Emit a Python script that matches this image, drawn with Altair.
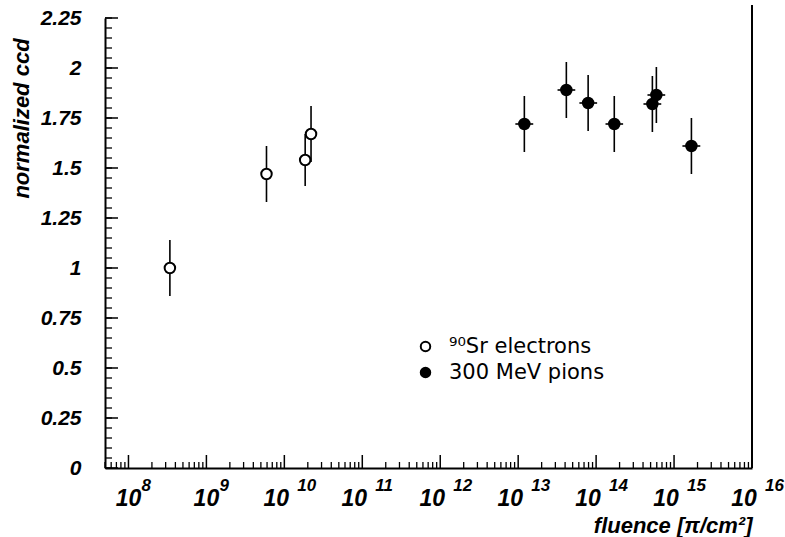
import altair as alt
import pandas as pd

# ---- data ----
series_labels = ["⁹⁰Sr electrons", "300 MeV pions"]

sr_fluence = [3.4e8, 5.9e9, 1.85e10, 2.2e10]
sr_ccd = [1.00, 1.47, 1.54, 1.67]
sr_err = [0.14, 0.14, 0.13, 0.14]

pi_fluence = [1.2e13, 4.15e13, 7.9e13, 1.71e14, 5.27e14, 5.93e14, 1.67e15]
pi_fluence_lo = [0.92e13, 3.2e13, 6.1e13, 1.32e14, 4.05e14, 4.56e14, 1.28e15]
pi_fluence_hi = [1.56e13, 5.4e13, 1.03e14, 2.22e14, 6.85e14, 7.7e14, 2.17e15]
pi_ccd = [1.72, 1.89, 1.825, 1.72, 1.82, 1.865, 1.61]
pi_err = [0.14, 0.14, 0.14, 0.14, 0.14, 0.14, 0.14]

y_tick_labels = [0, 0.25, 0.5, 0.75, 1, 1.25, 1.5, 1.75, 2, 2.25]
decade_exponents = [8, 9, 10, 11, 12, 13, 14, 15, 16]

# ---- tables ----
pts = pd.DataFrame({
    "fluence": sr_fluence + pi_fluence,
    "ccd": sr_ccd + pi_ccd,
    "err": sr_err + pi_err,
    "series": [series_labels[0]] * len(sr_fluence) + [series_labels[1]] * len(pi_fluence),
})
pts["lo"] = pts["ccd"] - pts["err"]
pts["hi"] = pts["ccd"] + pts["err"]

pi_df = pd.DataFrame({"flo": pi_fluence_lo, "fhi": pi_fluence_hi, "ccd": pi_ccd})

dec = pd.DataFrame({
    "val": [10.0 ** e for e in decade_exponents],
    "base": ["10"] * len(decade_exponents),
    "exp": [str(e) for e in decade_exponents],
    "two": [e >= 10 for e in decade_exponents],
})

XMIN, XMAX = 5.0e7, 1.0e16
minor_x = [m * 10.0 ** k for k in range(7, 16) for m in range(2, 10) if XMIN <= m * 10.0 ** k <= XMAX]
minor_x_df = pd.DataFrame({"val": minor_x})
y_minor_df = pd.DataFrame({"v": [round(i * 0.05, 2) for i in range(46)]})
y_major_df = pd.DataFrame({"v": y_tick_labels})

W, H = 647, 450
FONT = "Liberation Sans"

xs = alt.Scale(type="log", domain=[XMIN, XMAX], nice=False)
ys = alt.Scale(domain=[0, 2.25], nice=False, zero=False)

X_AX = alt.Axis(labels=False, ticks=False, grid=False, domainColor="black", domainWidth=2,
                title="fluence [π/cm²]", titleFont=FONT, titleFontSize=22,
                titleFontStyle="italic", titleFontWeight="bold", titleColor="black",
                titleX=W, titleY=57, titleAlign="right", titleBaseline="middle")
Y_AX = alt.Axis(values=y_tick_labels, labelExpr="'' + datum.value", ticks=False, grid=False,
                domainColor="black", domainWidth=2, labelPadding=24,
                labelFont=FONT, labelFontSize=21, labelFontStyle="italic",
                labelFontWeight="bold", labelColor="black",
                title="normalized ccd", titleFont=FONT, titleFontSize=22,
                titleFontStyle="italic", titleFontWeight="bold", titleColor="black",
                titleX=-84, titleY=100, titleAngle=270, titleAlign="center",
                titleBaseline="middle")

# vertical error bars
vbars = alt.Chart(pts).mark_rule(color="black", strokeWidth=1.6).encode(
    x=alt.X("fluence:Q", scale=xs, axis=X_AX),
    y=alt.Y("lo:Q", scale=ys, axis=Y_AX),
    y2="hi:Q",
)
# horizontal error bars (pions)
hbars = alt.Chart(pi_df).mark_rule(color="black", strokeWidth=1.6).encode(
    x=alt.X("flo:Q", scale=xs, axis=X_AX),
    x2="fhi:Q",
    y=alt.Y("ccd:Q", scale=ys, axis=Y_AX),
)
points = alt.Chart(pts).mark_point(shape="circle", filled=True, stroke="black",
                                   strokeWidth=2, size=110, opacity=1).encode(
    x=alt.X("fluence:Q", scale=xs, axis=X_AX),
    y=alt.Y("ccd:Q", scale=ys, axis=Y_AX),
    fill=alt.Fill("series:N", scale=alt.Scale(domain=series_labels, range=["white", "black"]),
                  legend=alt.Legend(title=None, orient="none", legendX=310, legendY=318,
                                    labelFont="DejaVu Sans", labelFontSize=21, labelColor="black",
                                    symbolType="circle", symbolSize=90,
                                    symbolStrokeColor="black", symbolStrokeWidth=2,
                                    labelOffset=13, rowPadding=4)),
)

# inward ticks on the y axis
y_minor = alt.Chart(y_minor_df).mark_rule(color="black", strokeWidth=1.3).encode(
    y=alt.Y("v:Q", scale=ys, axis=Y_AX), x=alt.value(0), x2=alt.value(7))
y_major = alt.Chart(y_major_df).mark_rule(color="black", strokeWidth=1.5).encode(
    y=alt.Y("v:Q", scale=ys, axis=Y_AX), x=alt.value(0), x2=alt.value(13))
# inward ticks on the x axis
x_minor = alt.Chart(minor_x_df).mark_rule(color="black", strokeWidth=1.3).encode(
    x=alt.X("val:Q", scale=xs, axis=X_AX), y=alt.value(H), y2=alt.value(H - 6))
x_major = alt.Chart(dec).mark_rule(color="black", strokeWidth=1.5).encode(
    x=alt.X("val:Q", scale=xs, axis=X_AX), y=alt.value(H), y2=alt.value(H - 13))

# decade labels 10^n
lab_style = dict(font=FONT, fontStyle="italic", fontWeight="bold", color="black")
base1 = alt.Chart(dec).transform_filter("!datum.two").mark_text(
    fontSize=23, align="center", baseline="middle", dx=0, **lab_style).encode(
    x=alt.X("val:Q", scale=xs, axis=X_AX), y=alt.value(H + 31), text="base:N")
base2 = alt.Chart(dec).transform_filter("datum.two").mark_text(
    fontSize=23, align="center", baseline="middle", dx=-8, **lab_style).encode(
    x=alt.X("val:Q", scale=xs, axis=X_AX), y=alt.value(H + 31), text="base:N")
expo = alt.Chart(dec).mark_text(
    fontSize=17, align="left", baseline="middle", dx=13, **lab_style).encode(
    x=alt.X("val:Q", scale=xs, axis=X_AX), y=alt.value(H + 18), text="exp:N")

# right frame line
right_line = alt.Chart(dec).mark_rule(color="black", strokeWidth=1.5).encode(
    x=alt.value(W), y=alt.value(-13), y2=alt.value(H))

chart = alt.layer(
    y_minor, y_major, x_minor, x_major, right_line, vbars, hbars, points, base1, base2, expo
).properties(
    width=W, height=H,
    autosize=alt.AutoSizeParams(type="none"),
    padding={"left": 105, "top": 18, "right": 33, "bottom": 69},
    background="white",
).configure_view(stroke=None)

chart.save("out.html", embed_options={"renderer": "svg", "actions": False})
